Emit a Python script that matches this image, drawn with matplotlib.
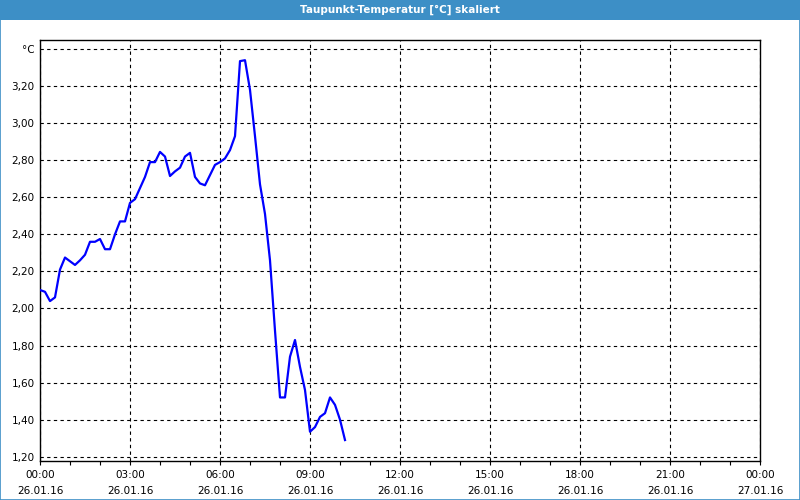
import numpy as np
import matplotlib
matplotlib.use('Agg')
import matplotlib.pyplot as plt
from matplotlib.patches import Rectangle

# dew point readings, one every 10 minutes starting 26.01.16 00:00
hours = np.arange(62) / 6.0
taupunkt = [2.10, 2.09, 2.04, 2.06, 2.21, 2.275, 2.255, 2.235, 2.26, 2.29,
            2.36, 2.36, 2.375, 2.32, 2.32, 2.40, 2.47, 2.47, 2.57, 2.59,
            2.65, 2.71, 2.79, 2.79, 2.845, 2.82, 2.715, 2.74, 2.76, 2.82,
            2.84, 2.71, 2.675, 2.665, 2.72, 2.775, 2.79, 2.81, 2.855, 2.93,
            3.335, 3.34, 3.18, 2.93, 2.67, 2.51, 2.26, 1.88, 1.52, 1.52,
            1.74, 1.83, 1.685, 1.56, 1.335, 1.36, 1.415, 1.435, 1.52, 1.48,
            1.40, 1.29]

x_ticks = [0, 3, 6, 9, 12, 15, 18, 21, 24]
x_labels = ['00:00\n26.01.16', '03:00\n26.01.16', '06:00\n26.01.16',
            '09:00\n26.01.16', '12:00\n26.01.16', '15:00\n26.01.16',
            '18:00\n26.01.16', '21:00\n26.01.16', '00:00\n27.01.16']
y_ticks = [1.2, 1.4, 1.6, 1.8, 2.0, 2.2, 2.4, 2.6, 2.8, 3.0, 3.2, 3.4]
y_labels = ['1,20', '1,40', '1,60', '1,80', '2,00', '2,20', '2,40',
            '2,60', '2,80', '3,00', '3,20', '°C']

title = 'Taupunkt-Temperatur [°C] skaliert'
blue_bar = '#3d8fc6'

fig = plt.figure(figsize=(8, 5), dpi=100)
fig.patch.set_facecolor('white')

# title bar and thin window border
fig.patches.append(Rectangle((0, 0.96), 1, 0.04, transform=fig.transFigure,
                             facecolor=blue_bar, edgecolor='none', zorder=0))
fig.patches.append(Rectangle((0.0006, 0.001), 0.9988, 0.998, transform=fig.transFigure,
                             facecolor='none', edgecolor=blue_bar, lw=1.2, zorder=0))
fig.text(0.5, 0.98, title, color='white', fontsize=7.5, fontweight='bold',
         ha='center', va='center')

ax = fig.add_axes([0.05, 0.078, 0.9, 0.842])
ax.plot(hours, taupunkt, color='#0000ff', lw=1.6, zorder=3)

ax.set_xlim(0, 24)
ax.set_ylim(1.177, 3.449)

ax.set_xticks(x_ticks)
ax.set_xticklabels(x_labels, fontsize=7.5, linespacing=1.75)
ax.set_xticks(np.arange(0, 25, 1), minor=True)
ax.set_yticks(y_ticks)
ax.set_yticklabels(y_labels, fontsize=7.5)

ax.tick_params(axis='x', which='both', direction='out', length=3, width=0.8, pad=3.5)
ax.tick_params(axis='y', length=0, pad=4)

ax.grid(True, which='major', color='black', linestyle=(0, (3, 3)), lw=0.8)

for s in ax.spines.values():
    s.set_color('black')
    s.set_linewidth(1.0)

fig.savefig('out.png', dpi=100)
